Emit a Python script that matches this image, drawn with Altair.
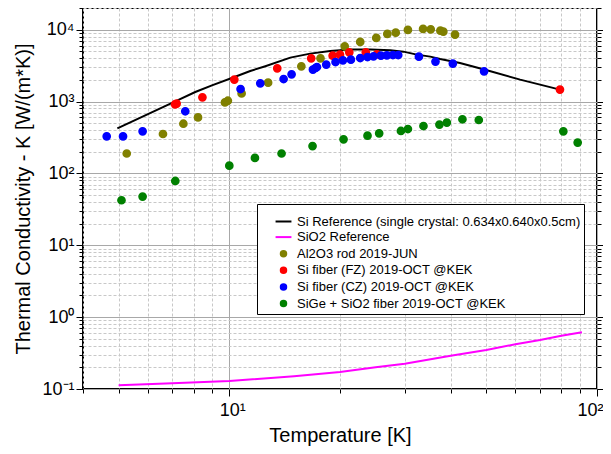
import altair as alt
import pandas as pd

FONT = "Liberation Sans"

series_names = [
    "Si Reference (single crystal: 0.634x0.640x0.5cm)",
    "SiO2 Reference",
    "Al2O3 rod 2019-JUN",
    "Si fiber (FZ) 2019-OCT @KEK",
    "Si fiber (CZ) 2019-OCT @KEK",
    "SiGe + SiO2 fiber 2019-OCT @KEK",
]
series_colors = ["#000000", "#ff00ff", "#808000", "#ff0000", "#0000ff", "#008000"]

# Si reference curve (line)
si_T = [4.96, 7.13, 8.08, 8.97, 10.33, 11.4, 12.53, 14.65, 16.6, 18.8, 21.3, 24.2,
        27.4, 29.76, 32.36, 35.2, 37.45, 42.4, 50.2, 61.8, 79.3]
si_K = [424, 1007, 1355, 1680, 2192, 2655, 3100, 4079, 4637, 5041, 5272, 5272,
        5154, 4943, 4490, 4211, 3902, 3431, 2716, 2016, 1464]

# SiO2 reference curve (line)
sio2_T = [5, 7, 10, 15, 20, 25, 30, 40, 50, 60, 70, 80, 91]
sio2_K = [0.113, 0.120, 0.129, 0.150, 0.172, 0.200, 0.225, 0.29, 0.35, 0.42, 0.48, 0.55, 0.615]

# Al2O3 rod
al_T = [5.26, 6.60, 7.50, 8.22, 9.73, 9.91, 10.8, 12.75, 15.7, 17.7, 20.6, 22.7, 25.1,
        26.9, 28.35, 30.6, 33.65, 35.3, 37.5, 38.2, 41.1]
al_K = [189, 353, 491, 601, 971, 1026, 1297, 1827, 3083, 3984, 5853, 6741, 7665,
        8712, 9082, 9904, 10226, 10100, 9684, 9380, 8520]

# Si fiber FZ
fz_T = [7.12, 7.19, 8.45, 10.32, 13.5, 16.7, 19.1, 20.0, 21.2, 23.5, 25.2, 79.3]
fz_K = [914, 936, 1144, 2017, 2897, 3990, 4348, 4490, 4833, 4833, 4534, 1464]

# Si fiber CZ
cz_T = [4.64, 5.14, 5.81, 7.59, 10.73, 12.14, 14.05, 14.77, 16.88, 17.16, 17.31, 18.35,
        19.45, 20.37, 21.41, 22.7, 23.76, 24.67, 25.84, 26.83, 27.86, 28.8, 32.78,
        36.37, 40.54, 49.3]
cz_K = [328, 328, 385, 731, 1492, 1791, 2055, 2389, 2778, 2924, 3019, 3260,
        3542, 3741, 3826, 4027, 4158, 4252, 4348, 4390, 4432, 4432, 4211,
        3589, 3366, 2630]

# SiGe + SiO2 fiber
sige_T = [5.09, 5.81, 7.13, 10.0, 11.74, 13.87, 16.84, 20.45, 23.76, 25.56, 29.29, 30.6,
          33.73, 37.28, 39.05, 43.05, 47.7, 81.0, 88.6]
sige_K = [42.3, 47.6, 78.4, 128, 164, 189, 240, 298, 335, 361, 389, 414,
          456, 477, 509, 566, 553, 385, 268]

x_major_vals = [10, 100]
x_minor_vals = [4, 5, 6, 7, 8, 9, 20, 30, 40, 50, 60, 70, 80, 90]
y_major_vals = [0.1, 1, 10, 100, 1000, 10000]
y_minor_vals = [round(m * 10 ** e, 6) for e in range(-1, 4) for m in range(2, 10)] + [20000]

si_df = pd.DataFrame({"T": si_T, "K": si_K})
sio2_df = pd.DataFrame({"T": sio2_T, "K": sio2_K})
pts = []
for name, Ts, Ks in [(series_names[2], al_T, al_K), (series_names[3], fz_T, fz_K),
                     (series_names[4], cz_T, cz_K), (series_names[5], sige_T, sige_K)]:
    for t, k in zip(Ts, Ks):
        pts.append({"series": name, "T": t, "K": k})
pts_df = pd.DataFrame(pts)

xscale = alt.Scale(type="log", domain=[4, 100], nice=False)
yscale = alt.Scale(type="log", domain=[0.1, 20000], nice=False)

x_lab = "'10' + ['⁰','¹','²'][round(log(datum.value)/LN10)]"
y_lab = "'10' + ['⁻¹','⁰','¹','²','³','⁴'][round(log(datum.value)/LN10)+1]"

common_axis = dict(domain=False, tickColor="black", tickWidth=1, labelFont=FONT,
                   titleFont=FONT, labelColor="black", titleColor="black",
                   titleFontWeight="normal")

x_major = alt.X("T:Q", scale=xscale, axis=alt.Axis(
    orient="bottom", values=x_major_vals, labelExpr=x_lab, tickSize=7, labelFontSize=18,
    labelPadding=5, labelOffset=3, labelFlush=True, labelFlushOffset=3,
    grid=True, gridColor="#a8a8a8", gridWidth=1,
    title="Temperature [K]", titleFontSize=20, titlePadding=6, **common_axis))
x_minor = alt.X("T:Q", scale=xscale, axis=alt.Axis(
    orient="bottom", values=x_minor_vals, labels=False, tickSize=4, grid=True,
    gridColor="#c8c8c8", gridDash=[3, 2], gridWidth=1, title=None, **common_axis))
y_major = alt.Y("K:Q", scale=yscale, axis=alt.Axis(
    orient="left", values=y_major_vals, labelExpr=y_lab, tickSize=7, labelFontSize=18,
    labelPadding=2, grid=True, gridColor="#a8a8a8", gridWidth=1,
    title="Thermal Conductivity - K [W/(m*K)]", titleFontSize=20, titlePadding=8,
    **common_axis))
y_minor = alt.Y("K:Q", scale=yscale, axis=alt.Axis(
    orient="left", values=y_minor_vals, labels=False, tickSize=4, grid=True,
    gridColor="#c8c8c8", gridDash=[3, 2], gridWidth=1, title=None, **common_axis))
y_right_major = alt.Y("K:Q", scale=yscale, axis=alt.Axis(
    orient="right", values=y_major_vals, labels=False, tickSize=6, grid=False,
    title=None, **common_axis))
y_right_minor = alt.Y("K:Q", scale=yscale, axis=alt.Axis(
    orient="right", values=y_minor_vals, labels=False, tickSize=4, grid=False,
    title=None, **common_axis))
x_none = alt.X("T:Q", scale=xscale, axis=None)

line_path = "M-2.9,0L2.9,0"
shape_range = [line_path, line_path, "circle", "circle", "circle", "circle"]

def make_legend():
    return alt.Legend(
        title=" ", titleFontSize=4, titlePadding=4, orient="none", legendX=174, legendY=196,
        padding=3, fillColor="white", strokeColor="black",
        labelFont=FONT, labelFontSize=13, labelColor="black", symbolSize=30,
        symbolOffset=17, labelOffset=7, rowPadding=1.6, symbolStrokeWidth=2,
        labelLimit=0,
    )

l_si = alt.Chart(si_df).mark_line(color="black", strokeWidth=2).encode(x=x_major, y=y_major)
l_sio2 = alt.Chart(sio2_df).mark_line(color="#ff00ff", strokeWidth=2).encode(x=x_minor, y=y_minor)
l_pts = alt.Chart(pts_df).mark_point(filled=False, size=52, opacity=1, strokeWidth=1.5).encode(
    x=x_none, y=y_right_major,
    color=alt.Color("series:N", scale=alt.Scale(domain=series_names, range=series_colors),
                    sort=series_names, legend=make_legend()),
    fill=alt.Fill("series:N", scale=alt.Scale(domain=series_names, range=series_colors),
                  sort=series_names, legend=make_legend()),
    shape=alt.Shape("series:N", scale=alt.Scale(domain=series_names, range=shape_range),
                    sort=series_names, legend=make_legend()),
)
l_dummy = alt.Chart(si_df).mark_line(opacity=0).encode(x=x_none, y=y_right_minor)

chart = alt.layer(l_si, l_sio2, l_pts, l_dummy).resolve_axis(
    x="independent", y="independent"
).properties(
    width=514, height=381,
    autosize=alt.AutoSizeParams(type="none"),
    padding={"left": 75, "top": 0, "right": 6, "bottom": 57},
).configure_view(stroke="black", strokeWidth=2)

chart.save("out.html", embed_options={"renderer": "svg", "actions": False})
